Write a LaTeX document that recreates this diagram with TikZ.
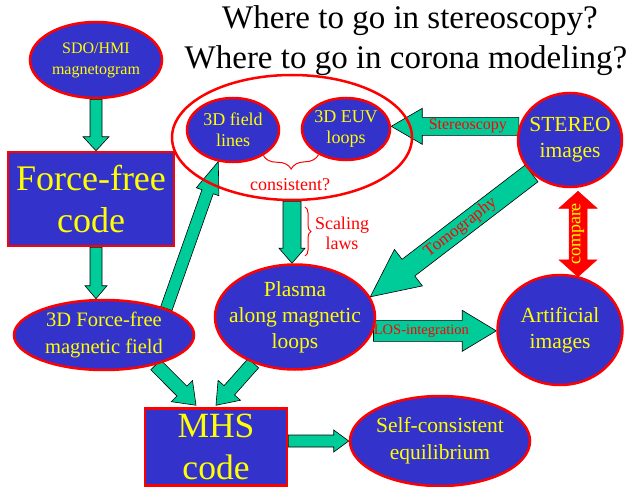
\documentclass[tikz,border=0pt]{standalone}
\usepackage{fontspec}
\setmainfont{Liberation Serif}
\usetikzlibrary{shapes.geometric,calc,decorations.pathreplacing}
\definecolor{nblue}{RGB}{51,51,204}
\definecolor{ngreen}{RGB}{0,204,153}
\definecolor{nred}{RGB}{255,0,0}
\definecolor{nyellow}{RGB}{255,255,0}
\pgfdeclarelayer{bg}
\pgfsetlayers{bg,main}
\newcommand\setfs[2]{\fontsize{#1}{#2}\selectfont}
% #2 start, #3 end, #4 half shaft, #5 half head, #6 head length
\newcommand\fatarrow[6][]{%
  \coordinate (faH) at ($(#3)!#6!(#2)$);
  \filldraw[fatarr,#1] ($(#2)!#4!90:(#3)$) -- ($(faH)!#4!-90:(#2)$) -- ($(faH)!#5!-90:(#2)$) -- (#3) -- ($(faH)!#5!90:(#2)$) -- ($(faH)!#4!90:(#2)$) -- ($(#2)!#4!-90:(#3)$) -- cycle;}
\newcommand\dblarrow[6][]{%
  \coordinate (daH) at ($(#2)!#6!(#3)$);
  \coordinate (daK) at ($(#3)!#6!(#2)$);
  \filldraw[#1] (#2) -- ($(daH)!#5!90:(#3)$) -- ($(daH)!#4!90:(#3)$) -- ($(daK)!#4!-90:(#2)$) -- ($(daK)!#5!-90:(#2)$) -- (#3) -- ($(daK)!#5!90:(#2)$) -- ($(daK)!#4!90:(#2)$) -- ($(daH)!#4!-90:(#3)$) -- ($(daH)!#5!-90:(#3)$) -- cycle;}
\tikzset{
  fatarr/.style={fill=ngreen, draw=black, line width=0.6pt, line join=miter},
  ell/.style 2 args={ellipse, fill=nblue, draw=nred, line width=2.5pt, minimum width=#1, minimum height=#2, inner sep=0pt},
  etxt/.style={text=nyellow, align=center, inner sep=0pt},
  box/.style={rectangle, fill=nblue, draw=nred, line width=2.5pt, text=nyellow, align=center, inner sep=0pt},
  rtxt/.style={text=nred, align=center, inner sep=0pt},
  brc/.style={draw=nred, line width=1pt, decorate},
}
\begin{document}
\begin{tikzpicture}[x=1pt,y=-1pt]
\useasboundingbox (0,0) rectangle (627,487);
% titles
\node[font=\setfs{33}{41}, inner sep=0pt] (t1) at (410,21) {Where to go in stereoscopy?};
\node[font=\setfs{33}{41}, inner sep=0pt] (t2) at (406,61) {Where to go in corona modeling?};
% nodes
\node[ell={132}{76}, label={[etxt,font=\setfs{16}{21}]center:SDO/HMI\\magnetogram}] (sdo) at (96,60) {};
\node[box, minimum width=166, minimum height=94, font=\setfs{36}{43}] (ffcode) at (91,199) {Force-free\\code};
\node[ell={180}{70}, label={[etxt,font=\setfs{20.5}{27}]center:3D Force-free\\magnetic field}] (ff3d) at (104,335) {};
\node[box, minimum width=142, minimum height=77, font=\setfs{35.5}{42}] (mhs) at (216,447) {MHS\\code};
\node[ell={180}{90}, label={[etxt,font=\setfs{21.5}{27}]center:Self-consistent\\equilibrium}] (selfc) at (440,441) {};
\node[ellipse, draw=nred, line width=2.5pt, minimum width=240, minimum height=125, inner sep=0pt] (big) at (292,137.5) {};
\node[ell={92}{64}, label={[etxt,font=\setfs{18}{21}]center:3D field\\lines}] (fl) at (233,130) {};
\node[ell={88}{62}, label={[etxt,font=\setfs{18}{21}]center:3D EUV\\loops}] (euv) at (346,129) {};
\node[ell={104}{94}, label={[etxt,font=\setfs{21.5}{26}]center:STEREO\\images}] (stereo) at (570,140) {};
\node[ell={160}{105}, label={[etxt,font=\setfs{21.5}{26}]center:Plasma\\along magnetic\\loops}] (plasma) at (295,317) {};
\node[ell={125}{110}, label={[etxt,font=\setfs{21.5}{26}]center:Artificial\\images}] (artificial) at (560,330) {};
% connectors
\begin{pgfonlayer}{bg}
\coordinate (a1e) at (sdo.south |- ffcode.north);
\fatarrow{sdo.south}{a1e}{6pt}{13pt}{14pt}
\coordinate (a2s) at (ffcode.south -| sdo.south);
\coordinate (a2e) at (ff3d.north -| sdo.south);
\fatarrow{a2s}{a2e}{6pt}{11pt}{13pt}
\coordinate (a3e) at (fl.245);
\fatarrow{ff3d.23}{a3e}{6pt}{12pt}{32pt}
\coordinate (a4e) at ($(mhs.north)+(-20,-2)$);
\fatarrow{ff3d.-30}{a4e}{7pt}{15pt}{20pt}
\coordinate (a5e) at ($(mhs.north)+(0,-2)$);
\fatarrow{plasma.228}{a5e}{7pt}{15pt}{20pt}
\coordinate (a6s) at (mhs.east |- selfc.west);
\fatarrow{a6s}{selfc.west}{6pt}{11pt}{15pt}
\coordinate (a7e) at (big.south |- plasma.north);
\fatarrow{big.south}{a7e}{9pt}{13pt}{15pt}
\coordinate (a8e) at (euv.east |- stereo.165);
\fatarrow{stereo.165}{a8e}{9pt}{18pt}{31pt}
\fatarrow{stereo.221}{plasma.15}{10.5pt}{23pt}{48pt}
\coordinate (a10e) at (artificial.west |- plasma.-10);
\fatarrow{plasma.-10}{a10e}{10.5pt}{20.5pt}{34pt}
\coordinate (cmpT) at ($(stereo.south)+(8,3)$);
\coordinate (cmpB) at ($(artificial.north)+(18,3)$);
\dblarrow[fill=nred, draw=nred, line width=0.5pt]{cmpT}{cmpB}{9pt}{19pt}{17pt}
\end{pgfonlayer}
% braces
\draw[brc, decoration={brace, amplitude=14pt}] (euv.223) -- (fl.-40);
\coordinate (sb1) at (305,207);
\coordinate (sb2) at (305,256);
\draw[brc, decoration={brace, amplitude=6pt}] (sb1) -- (sb2);
% labels
\node[rtxt, font=\setfs{18}{20}] (cons) at (290,185) {consistent?};
\node[rtxt, font=\setfs{18}{20}] (scal) at (342,233) {Scaling\\laws};
\node[rtxt, font=\setfs{16}{18}] (stlab) at ($(stereo.165)!0.4!(a8e)$) {Stereoscopy};
\node[rtxt, font=\setfs{17}{19}, rotate=37.5] (tomlab) at ($(stereo.221)!0.44!(plasma.15)$) {Tomography};
\node[rtxt, font=\setfs{14.5}{16}] (loslab) at ($(plasma.-10)!0.39!(a10e)$) {LOS-integration};
\node[etxt, font=\setfs{18}{20}, rotate=90] (cmplab) at ($(cmpT)!0.5!(cmpB)$) {compare};
\end{tikzpicture}
\end{document}
